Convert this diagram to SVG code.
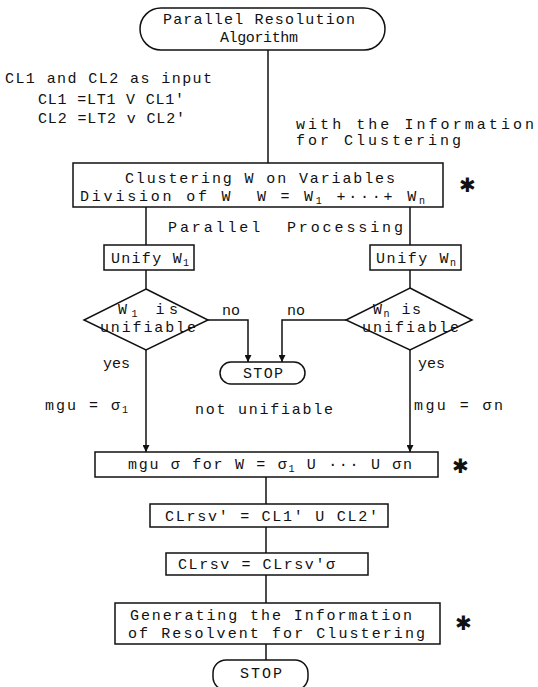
<svg xmlns="http://www.w3.org/2000/svg" width="538" height="687" viewBox="0 0 538 687">
<style>
  .t { font-family: "Liberation Mono", "DejaVu Sans Mono", monospace; font-size: 15px; fill: #111; white-space: pre; }
  .box { fill: #fff; stroke: #111; stroke-width: 1.5; }
  .ln { fill: none; stroke: #111; stroke-width: 1.5; }
  .star { font-family: "DejaVu Sans", sans-serif; font-size: 20px; fill: #111; }
  .sub { font-size: 10px; }
</style>
<defs>
  <marker id="arr" viewBox="0 0 10 10" refX="10" refY="5" markerWidth="7" markerHeight="7" orient="auto" markerUnits="userSpaceOnUse">
    <path d="M0,0 L10,5 L0,10 z" fill="#111"/>
  </marker>
</defs>
<rect width="538" height="687" fill="#fff"/>

<g id="connectors">
  <path class="ln" d="M268,50 V163"/>
  <path class="ln" d="M146,207 V245"/>
  <path class="ln" d="M410,207 V245"/>
  <path class="ln" d="M146,270 V289"/>
  <path class="ln" d="M410,270 V288"/>
  <path class="ln" d="M208,320 H248 V362" marker-end="url(#arr)"/>
  <path class="ln" d="M346,320 H282 V362" marker-end="url(#arr)"/>
  <path class="ln" d="M146,350 V452" marker-end="url(#arr)"/>
  <path class="ln" d="M410,350 V452" marker-end="url(#arr)"/>
  <path class="ln" d="M266,477 V504"/>
  <path class="ln" d="M266,527 V553"/>
  <path class="ln" d="M266,575 V603"/>
  <path class="ln" d="M266,644 V660"/>
</g>

<g id="start">
  <rect class="box" x="140" y="8" width="245" height="42" rx="21"/>
  <text class="t" x="163" y="24" textLength="192" lengthAdjust="spacing">Parallel Resolution</text>
  <text class="t" x="220" y="42" textLength="78" lengthAdjust="spacing">Algorithm</text>
</g>

<g id="input-labels">
  <text class="t" x="5" y="83" textLength="207" lengthAdjust="spacing">CL1 and CL2 as input</text>
  <text class="t" x="38" y="104" textLength="146" lengthAdjust="spacing">CL1 =LT1 V CL1'</text>
  <text class="t" x="38" y="123" textLength="147" lengthAdjust="spacing">CL2 =LT2 v CL2'</text>
  <text class="t" x="296" y="129" textLength="238" lengthAdjust="spacing">with the Information</text>
  <text class="t" x="296" y="145" textLength="165" lengthAdjust="spacing">for Clustering</text>
</g>

<g id="clustering">
  <rect class="box" x="73" y="163" width="370" height="44"/>
  <text class="t" x="125" y="183" textLength="270" lengthAdjust="spacing">Clustering W on Variables</text>
  <text class="t" xml:space="preserve" x="80" y="201" textLength="345" lengthAdjust="spacing">Division of W  W = W<tspan class="sub" dy="3">1</tspan><tspan dy="-3"> +···+ W</tspan><tspan class="sub" dy="3">n</tspan></text>
  <text class="star" x="459" y="192">✱</text>
</g>

<g id="parallel-label">
  <text class="t" xml:space="preserve" x="168" y="232" textLength="235" lengthAdjust="spacing">Parallel  Processing</text>
</g>

<g id="unify1">
  <rect class="box" x="104" y="245" width="90" height="25"/>
  <text class="t" x="111" y="263" textLength="78" lengthAdjust="spacing">Unify W<tspan class="sub" dy="3">1</tspan></text>
</g>
<g id="unifyn">
  <rect class="box" x="370" y="245" width="91" height="25"/>
  <text class="t" x="376" y="263" textLength="80" lengthAdjust="spacing">Unify W<tspan class="sub" dy="3">n</tspan></text>
</g>

<g id="decision1">
  <polygon class="box" points="146,289 208,320 146,350 84,320"/>
  <text class="t" x="118" y="314" textLength="60" lengthAdjust="spacing">W<tspan class="sub" dy="3">1</tspan><tspan dy="-3"> is</tspan></text>
  <text class="t" x="100" y="332" textLength="96" lengthAdjust="spacing">unifiable</text>
</g>
<g id="decisionn">
  <polygon class="box" points="410,288 472,320 410,350 346,320"/>
  <text class="t" x="373" y="314" textLength="48" lengthAdjust="spacing">W<tspan class="sub" dy="3">n</tspan><tspan dy="-3"> is</tspan></text>
  <text class="t" x="362" y="332" textLength="97" lengthAdjust="spacing">unifiable</text>
</g>

<g id="branch-labels">
  <text class="t" x="222" y="315">no</text>
  <text class="t" x="287" y="315">no</text>
  <text class="t" x="103" y="368">yes</text>
  <text class="t" x="418" y="368">yes</text>
  <text class="t" x="45" y="410" textLength="83" lengthAdjust="spacing">mgu = σ<tspan class="sub" dy="3">1</tspan></text>
  <text class="t" x="195" y="414" textLength="138" lengthAdjust="spacing">not unifiable</text>
  <text class="t" x="414" y="410" textLength="89" lengthAdjust="spacing">mgu = σn</text>
</g>

<g id="stop1">
  <rect class="box" x="220" y="362" width="85" height="22" rx="11"/>
  <text class="t" x="243" y="378" textLength="40" lengthAdjust="spacing">STOP</text>
</g>

<g id="mgu">
  <rect class="box" x="95" y="452" width="343" height="25"/>
  <text class="t" x="128" y="469" textLength="284" lengthAdjust="spacing">mgu σ for W = σ<tspan class="sub" dy="3">1</tspan><tspan dy="-3"> U ··· U σn</tspan></text>
  <text class="star" x="452" y="473">✱</text>
</g>

<g id="clrsv1">
  <rect class="box" x="150" y="504" width="238" height="23"/>
  <text class="t" x="165" y="521" textLength="213" lengthAdjust="spacing">CLrsv' = CL1' U CL2'</text>
</g>

<g id="clrsv2">
  <rect class="box" x="166" y="553" width="202" height="22"/>
  <text class="t" x="178" y="569" textLength="157" lengthAdjust="spacing">CLrsv = CLrsv'σ</text>
</g>

<g id="generating">
  <rect class="box" x="115" y="603" width="325" height="41"/>
  <text class="t" x="130" y="620" textLength="282" lengthAdjust="spacing">Generating the Information</text>
  <text class="t" x="128" y="638" textLength="297" lengthAdjust="spacing">of Resolvent for Clustering</text>
  <text class="star" x="455" y="630">✱</text>
</g>

<g id="stop2">
  <rect class="box" x="213" y="660" width="95" height="30" rx="13"/>
  <text class="t" x="240" y="678" textLength="42" lengthAdjust="spacing">STOP</text>
</g>
</svg>
